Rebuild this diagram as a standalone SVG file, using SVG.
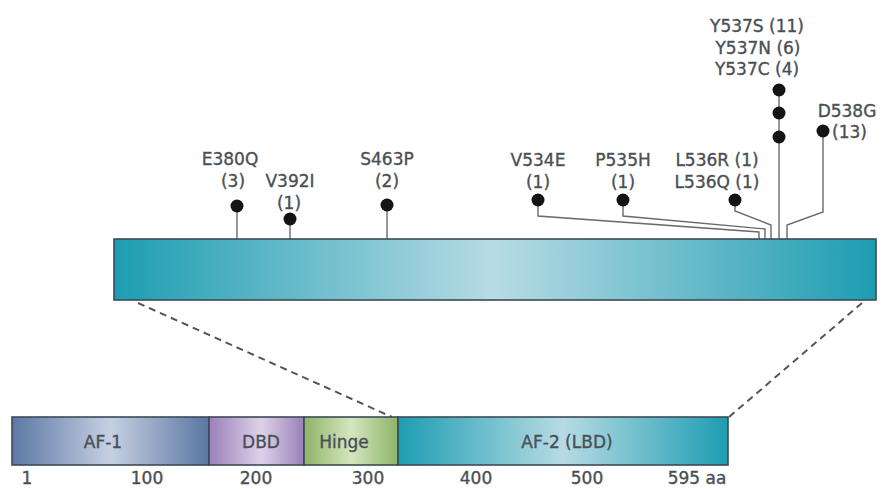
<svg xmlns="http://www.w3.org/2000/svg" width="886" height="489" viewBox="0 0 886 489">
<style>
  text { font-family: "DejaVu Sans", "Liberation Sans", sans-serif; font-size: 17px; fill: #4a4f56; stroke: #4a4f56; stroke-width: 0.35; text-anchor: middle; }
  .dot { fill: #141414; }
  .stem { fill: none; stroke: #6a6a6a; stroke-width: 1.4; }
  .dash { fill: none; stroke: #555; stroke-width: 2; stroke-dasharray: 7 5; }
  .box { stroke: #3c4a55; stroke-width: 1.6; }
</style>
<defs>
  <linearGradient id="gTeal" x1="0" y1="0" x2="1" y2="0">
    <stop offset="0" stop-color="#1d9db2"/>
    <stop offset="0.5" stop-color="#b7dbe4"/>
    <stop offset="1" stop-color="#1d9db2"/>
  </linearGradient>
  <linearGradient id="gAF1" x1="0" y1="0" x2="1" y2="0">
    <stop offset="0" stop-color="#5b78a4"/>
    <stop offset="0.5" stop-color="#c6d0e2"/>
    <stop offset="1" stop-color="#5a76a2"/>
  </linearGradient>
  <linearGradient id="gDBD" x1="0" y1="0" x2="1" y2="0">
    <stop offset="0" stop-color="#9a80b8"/>
    <stop offset="0.55" stop-color="#ddd2ea"/>
    <stop offset="1" stop-color="#9a80b8"/>
  </linearGradient>
  <linearGradient id="gHinge" x1="0" y1="0" x2="1" y2="0">
    <stop offset="0" stop-color="#8db468"/>
    <stop offset="0.5" stop-color="#d4e6bf"/>
    <stop offset="1" stop-color="#8db468"/>
  </linearGradient>
</defs>

<g id="connectors">
  <line class="dash" x1="138" y1="303" x2="392" y2="417"/>
  <line class="dash" x1="862" y1="303" x2="729" y2="417"/>
  <polyline class="stem" points="237,206 237,240"/>
  <polyline class="stem" points="290,219 290,240"/>
  <polyline class="stem" points="387,205 387,240"/>
  <polyline class="stem" points="538,200 538,216 759,232 759,240"/>
  <polyline class="stem" points="623,200 623,216 765,229 765,240"/>
  <polyline class="stem" points="735,200 735,211 771,225 771,240"/>
  <polyline class="stem" points="779,90 779,240"/>
  <polyline class="stem" points="823,132 823,212 787,225 787,240"/>
</g>

<g id="lbd-bar">
  <rect class="box" x="114" y="239" width="762" height="61" fill="url(#gTeal)"/>
</g>

<g id="mut-E380Q">
  <circle class="dot" cx="237" cy="206" r="6.5"/>
  <text x="230" y="165">E380Q</text>
  <text x="233" y="187">(3)</text>
</g>
<g id="mut-V392I">
  <circle class="dot" cx="290" cy="219" r="6.5"/>
  <text x="290" y="187">V392I</text>
  <text x="289" y="209">(1)</text>
</g>
<g id="mut-S463P">
  <circle class="dot" cx="387" cy="205" r="6.5"/>
  <text x="387" y="165">S463P</text>
  <text x="387" y="187">(2)</text>
</g>
<g id="mut-V534E">
  <circle class="dot" cx="538" cy="200" r="6.5"/>
  <text x="538" y="166">V534E</text>
  <text x="538" y="188">(1)</text>
</g>
<g id="mut-P535H">
  <circle class="dot" cx="623" cy="200" r="6.5"/>
  <text x="623" y="166">P535H</text>
  <text x="623" y="188">(1)</text>
</g>
<g id="mut-L536">
  <circle class="dot" cx="735" cy="200" r="6.5"/>
  <text x="717" y="166">L536R (1)</text>
  <text x="717" y="188">L536Q (1)</text>
</g>
<g id="mut-Y537">
  <circle class="dot" cx="779" cy="90" r="6.5"/>
  <circle class="dot" cx="779" cy="113" r="6.5"/>
  <circle class="dot" cx="779" cy="137" r="6.5"/>
  <text x="757" y="32">Y537S (11)</text>
  <text x="758" y="54">Y537N (6)</text>
  <text x="757" y="75">Y537C (4)</text>
</g>
<g id="mut-D538G">
  <circle class="dot" cx="823" cy="131" r="6.5"/>
  <text x="847" y="117">D538G</text>
  <text x="832" y="138" style="text-anchor:start">(13)</text>
</g>

<g id="dom-AF1">
  <rect class="box" x="12" y="417" width="197" height="48" fill="url(#gAF1)"/>
  <text x="103" y="448">AF-1</text>
</g>
<g id="dom-DBD">
  <rect class="box" x="209" y="417" width="95" height="48" fill="url(#gDBD)"/>
  <text x="261" y="448">DBD</text>
</g>
<g id="dom-Hinge">
  <rect class="box" x="304" y="417" width="94" height="48" fill="url(#gHinge)"/>
  <text x="344" y="448">Hinge</text>
</g>
<g id="dom-AF2">
  <rect class="box" x="398" y="417" width="330" height="48" fill="url(#gTeal)"/>
  <text x="567" y="448">AF-2 (LBD)</text>
</g>

<g id="scale">
  <text x="27" y="484">1</text>
  <text x="147" y="484">100</text>
  <text x="256" y="484">200</text>
  <text x="368" y="484">300</text>
  <text x="476" y="484">400</text>
  <text x="587" y="484">500</text>
  <text x="697" y="484">595 aa</text>
</g>
</svg>
